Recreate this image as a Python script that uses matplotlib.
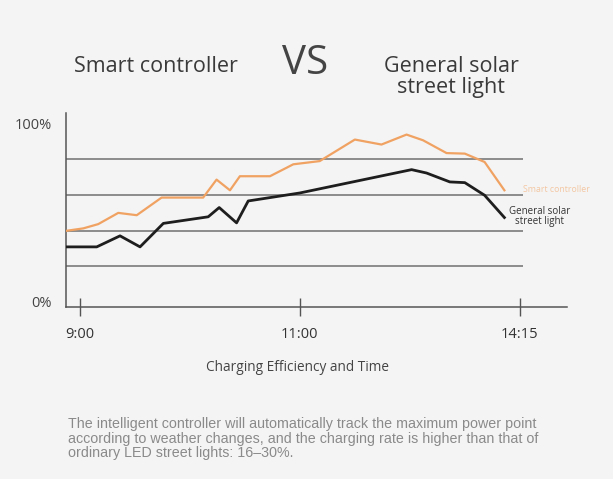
import matplotlib.pyplot as plt
import numpy as np

plt.rcParams['font.family'] = ['Open Sans', 'DejaVu Sans']

# x position: 9:00 -> 0, 11:00 -> 1, 14:15 -> 2 (axis is not linear in time)
tick_pos = [0, 1, 2]
tick_labels = ['9:00', '11:00', '14:15']

smart_x = [-0.064, 0.015, 0.083, 0.174, 0.258, 0.371, 0.56, 0.621, 0.682, 0.727,
           0.864, 0.97, 1.09, 1.25, 1.371, 1.485, 1.56, 1.667, 1.75, 1.84, 1.93]
smart_y = [39.8, 41.2, 43.6, 49.9, 48.6, 58.5, 58.5, 68.6, 62.6, 70.5,
           70.5, 77.2, 79.0, 91.1, 88.3, 93.9, 90.7, 83.5, 83.2, 78.5, 62.6]

general_x = [-0.064, 0.076, 0.182, 0.273, 0.379, 0.583, 0.633, 0.712, 0.765,
             1.0, 1.508, 1.576, 1.682, 1.75, 1.84, 1.93]
general_y = [30.8, 30.8, 37.0, 30.8, 44.0, 47.7, 52.9, 44.3, 56.6,
             61.1, 74.2, 72.3, 67.3, 66.9, 59.8, 47.3]

grid_levels = [20, 40, 60, 80]

fig = plt.figure(figsize=(6.13, 4.79), dpi=100)
fig.patch.set_facecolor('#f4f4f4')
ax = fig.add_axes([0.1077, 0.359, 0.817, 0.405])
ax.set_facecolor('none')

ax.hlines(grid_levels, -0.064, 2.014, color='#6f6f6f', lw=1.1, zorder=1)
ax.plot(smart_x, smart_y, color='#f0a263', lw=1.6, zorder=3)
ax.plot(general_x, general_y, color='#1e1e1e', lw=2.0, zorder=3)

ax.set_xlim(-0.0636, 2.214)
ax.set_ylim(-3, 106)
for s in ['top', 'right']:
    ax.spines[s].set_visible(False)
for s in ['left', 'bottom']:
    ax.spines[s].set_color('#555555')
    ax.spines[s].set_linewidth(1.1)

ax.set_xticks(tick_pos)
ax.set_xticklabels(tick_labels, fontsize=10.5, color='#333333')
ax.tick_params(axis='x', direction='inout', length=13, width=1, color='#555555', pad=8)
ax.set_yticks([0, 100])
ax.set_yticklabels(['0%', '100%'], fontsize=10.5, color='#444444')
ax.tick_params(axis='y', length=0, pad=10)
ax.get_yticklabels()[1].set_y(102.5)

ax.text(2.014, 63.0, 'Smart controller', fontsize=6.3, color='#f3c7a3', va='center', ha='left')
ax.text(2.09, 48.0, 'General solar\nstreet light', fontsize=7, color='#333333',
        va='center', ha='center', linespacing=0.85)

fig.text(0.255, 0.862, 'Smart controller', fontsize=15.5, color='#3a3a3a', ha='center', va='center')
fig.text(0.497, 0.866, 'VS', fontsize=29, color='#444444', ha='center', va='center')
fig.text(0.736, 0.84, 'General solar\nstreet light', fontsize=15.5, color='#3a3a3a',
         ha='center', va='center', linespacing=1.0)

fig.text(0.486, 0.232, 'Charging Efficiency and Time', fontsize=9.8, color='#444444',
         ha='center', va='center')
fig.text(0.111, 0.084,
         'The intelligent controller will automatically track the maximum power point\n'
         'according to weather changes, and the charging rate is higher than that of\n'
         'ordinary LED street lights: 16\u201330%.',
         fontsize=10.3, color='#8a8a8a', ha='left', va='center', linespacing=1.05,
         family=['Liberation Sans', 'DejaVu Sans'])

fig.savefig('out.png', dpi=100, facecolor=fig.get_facecolor())
